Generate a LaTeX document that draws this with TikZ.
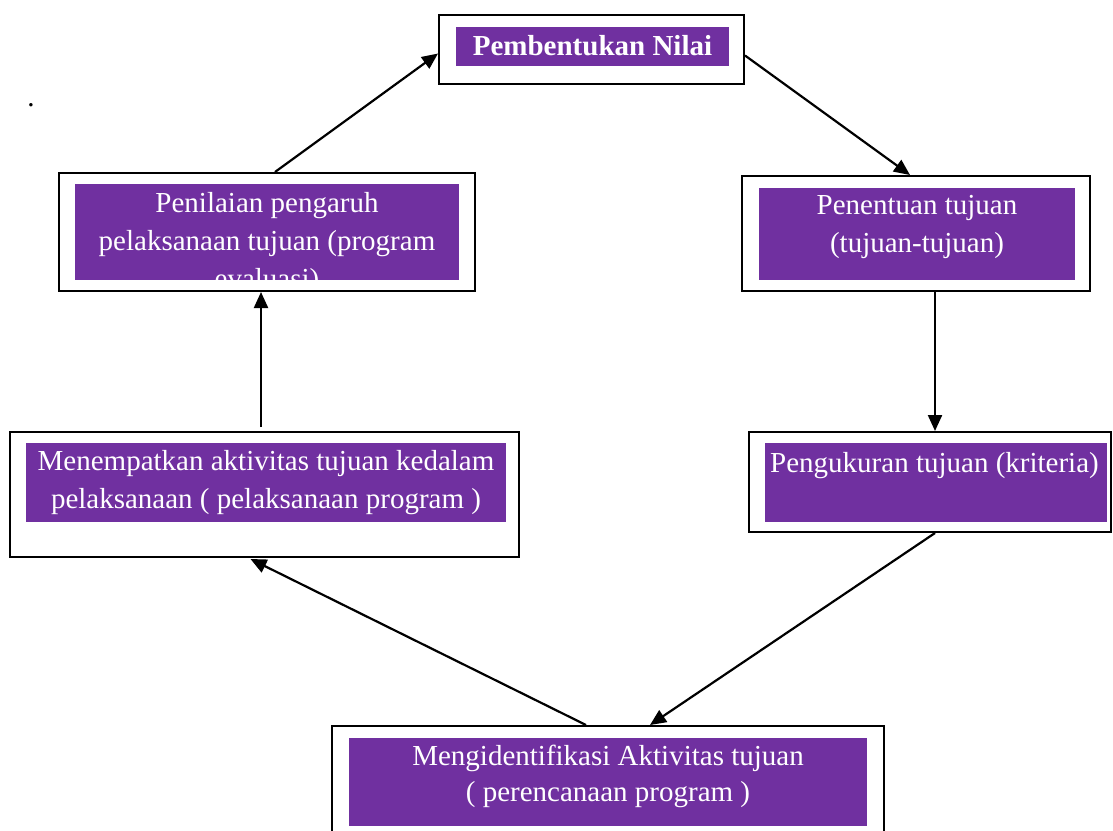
\documentclass[tikz,border=0pt]{standalone}
\usepackage{xcolor}
\usepackage{fontspec}
\setmainfont{Liberation Serif}
\usepackage{tikz}
\usetikzlibrary{arrows.meta}
\definecolor{ungu}{RGB}{112,48,160}

\begin{document}
\begin{tikzpicture}[x=1pt,y=-1pt,
    bingkai/.style={draw=black,line width=2pt,rectangle,inner sep=0pt},
    isi/.style={fill=ungu,rectangle,inner sep=0pt},
    teks/.style={text=white,align=center,inner sep=0pt,anchor=base,font=\fontsize{29}{38}\selectfont},
    panah/.style={line width=2.2pt,-{Triangle[length=16pt,width=14pt]}}]
    \useasboundingbox (0,0) rectangle (1113,830);
    % isian ungu
    \node[isi,minimum width=273,minimum height=39] (topi) at (592.5,46.5) {};
    \node[isi,minimum width=316,minimum height=92] (rti) at (917,234) {};
    \node[isi,minimum width=342,minimum height=79] (rmi) at (936,482.5) {};
    \node[isi,minimum width=518,minimum height=88] (boti) at (608,782) {};
    \node[isi,minimum width=480,minimum height=79] (lmi) at (266,482.5) {};
    \node[isi,minimum width=384,minimum height=96] (lti) at (267,232) {};
    % teks (base = baris terakhir)
    \node[teks,font=\fontsize{29}{38}\selectfont\bfseries] (topt) at (592.5,55) {Pembentukan Nilai};
    \node[teks] (rtt) at (917,252) {Penentuan tujuan\\(tujuan-tujuan)};
    \node[teks] (rmt) at (934.5,472) {Pengukuran tujuan (kriteria)};
    \node[teks,font=\fontsize{29}{36}\selectfont] (bott) at (608,801) {Mengidentifikasi Aktivitas tujuan\\( perencanaan program )};
    \node[teks] (lmt) at (266,508) {Menempatkan aktivitas tujuan kedalam\\pelaksanaan ( pelaksanaan program )};
    \node[teks] (ltt) at (267,288) {Penilaian pengaruh\\pelaksanaan tujuan (program\\evaluasi)};
    \node[teks,text=black] (titik) at (31,106) {.};
    % bingkai
    \node[bingkai,minimum width=305,minimum height=69] (topf) at (591.5,49.5) {};
    \node[bingkai,minimum width=348,minimum height=115] (rtf) at (916,233.5) {};
    \node[bingkai,minimum width=362,minimum height=100] (rmf) at (930,482) {};
    \node[bingkai,minimum width=552,minimum height=110] (botf) at (608,781) {};
    \node[bingkai,minimum width=509,minimum height=125] (lmf) at (264.5,494.5) {};
    \node[bingkai,minimum width=416,minimum height=118] (ltf) at (267,232) {};
    % panah
    \draw[panah] ([xshift=8pt]ltf.north) -- ([yshift=-4pt]topf.west);
    \draw[panah] ([yshift=-6pt]topf.east) -- ([xshift=-6pt]rtf.north);
    \draw[panah] ([xshift=19pt]rtf.south) -- ([xshift=19pt]rtf.south |- rmf.north);
    \draw[panah] ([xshift=5pt]rmf.south) -- ([xshift=42pt]botf.north);
    \draw[panah] ([xshift=-22pt]botf.north) -- ([xshift=-14pt,yshift=-1pt]lmf.south);
    \draw[panah] ([xshift=-3.5pt,yshift=4pt]lmf.north) -- ([xshift=-3.5pt]lmf.north |- ltf.south);
\end{tikzpicture}
\end{document}
